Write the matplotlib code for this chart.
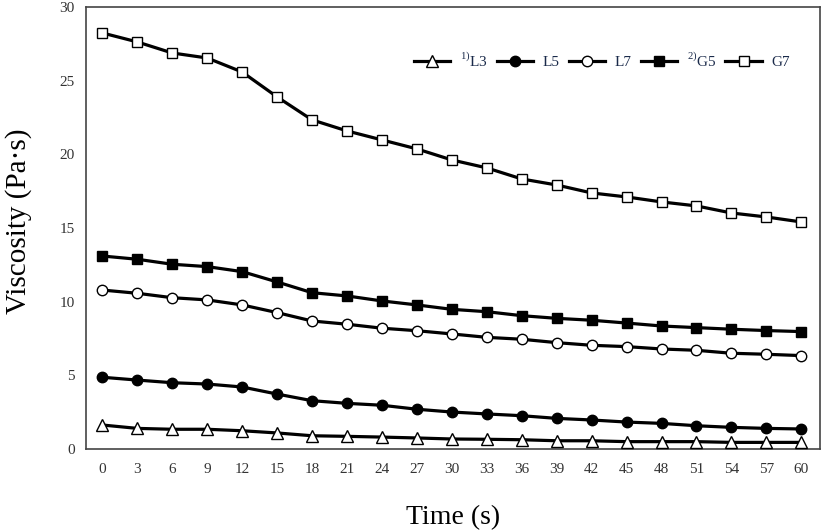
import matplotlib
matplotlib.use("Agg")
import matplotlib.pyplot as plt

plt.rcParams['font.family'] = ['Liberation Serif', 'DejaVu Serif']
plt.rcParams['mathtext.fontset'] = 'custom'
plt.rcParams['mathtext.rm'] = 'Liberation Serif'

time = [0, 3, 6, 9, 12, 15, 18, 21, 24, 27, 30, 33, 36, 39, 42, 45, 48, 51, 54, 57, 60]
L3 = [1.63, 1.40, 1.34, 1.34, 1.24, 1.09, 0.90, 0.86, 0.81, 0.75, 0.68, 0.66, 0.63, 0.56, 0.56, 0.50, 0.50, 0.50, 0.45, 0.45, 0.45]
L5 = [4.87, 4.68, 4.50, 4.41, 4.21, 3.73, 3.28, 3.10, 2.97, 2.70, 2.51, 2.38, 2.26, 2.08, 1.97, 1.83, 1.74, 1.58, 1.47, 1.40, 1.36]
L7 = [10.79, 10.57, 10.27, 10.12, 9.78, 9.26, 8.69, 8.47, 8.20, 8.03, 7.81, 7.58, 7.45, 7.22, 7.04, 6.95, 6.79, 6.70, 6.50, 6.43, 6.34]
G5 = [13.10, 12.88, 12.54, 12.38, 12.04, 11.34, 10.61, 10.39, 10.05, 9.78, 9.48, 9.32, 9.05, 8.87, 8.74, 8.55, 8.35, 8.24, 8.13, 8.04, 7.97]
G7 = [28.24, 27.63, 26.88, 26.54, 25.59, 23.90, 22.34, 21.59, 20.98, 20.37, 19.62, 19.08, 18.33, 17.92, 17.38, 17.11, 16.77, 16.50, 16.02, 15.75, 15.41]
labels = [r'$^{1)}$L3', 'L5', 'L7', r'$^{2)}$G5', 'G7']
yticks = [0, 5, 10, 15, 20, 25, 30]

fig = plt.figure(figsize=(8.27, 5.31), dpi=100)
ax = fig.add_axes([0.104, 0.1544, 0.8875, 0.8324])

series = [
    (L3, '^', 'white', 8),
    (L5, 'o', 'black', 7.5),
    (L7, 'o', 'white', 7.5),
    (G5, 's', 'black', 7.5),
    (G7, 's', 'white', 7.5),
]
for (vals, m, fc, ms), lab in zip(series, labels):
    ax.plot(time, vals, color='black', lw=2.3, marker=m, markersize=ms,
            markerfacecolor=fc, markeredgecolor='black', markeredgewidth=1.0,
            label=lab, zorder=3)

ax.set_xlim(-1.4, 61.6)
ax.set_ylim(0, 30)
ax.set_xticks(time)
ax.set_yticks(yticks)
ax.tick_params(axis='both', length=0, labelsize=11, labelcolor='#333333')
ax.tick_params(axis='x', pad=10)
ax.tick_params(axis='y', pad=8)
for s in ax.spines.values():
    s.set_color('#444444')
    s.set_linewidth(1.2)

ax.set_xlabel('Time (s)', fontsize=20, labelpad=21)
ax.set_ylabel('Viscosity (Pa·s)', fontsize=21)
ax.yaxis.set_label_coords(-0.073, 0.516)

leg = ax.legend(loc='center right', ncol=5, frameon=False, fontsize=11,
                bbox_to_anchor=(0.967, 0.88), handlelength=2.4,
                columnspacing=0.6, handletextpad=0.6, borderaxespad=0,
                labelcolor='#1a2a4a')

fig.savefig('out.png', dpi=100)
